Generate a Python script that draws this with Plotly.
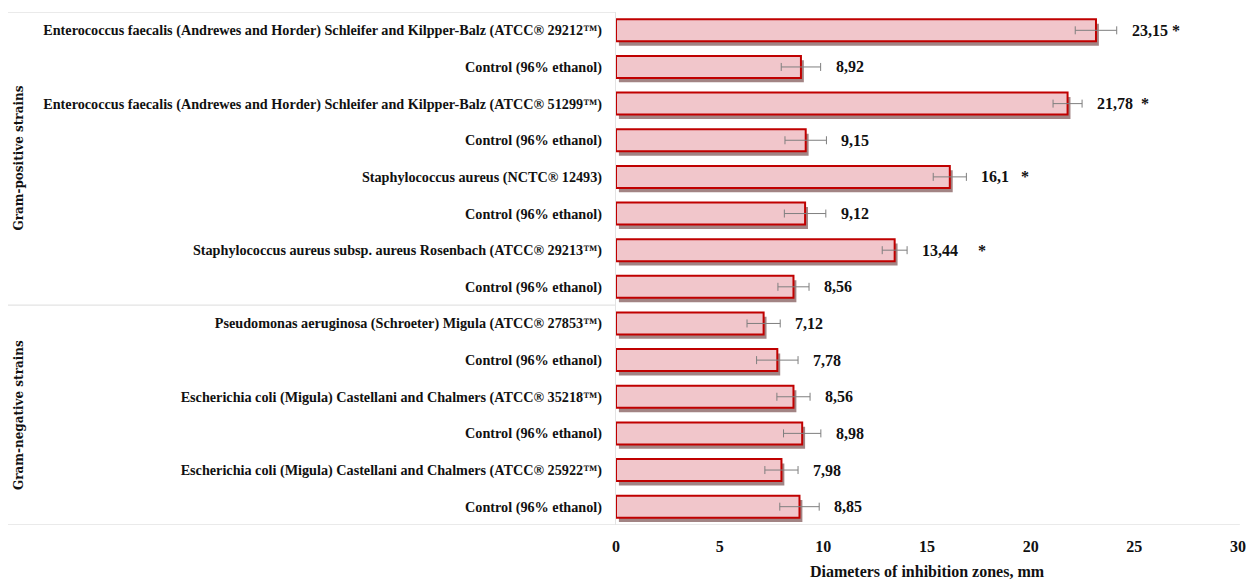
import plotly.graph_objects as go

labels = [
    "Enterococcus faecalis (Andrewes and Horder) Schleifer and Kilpper-Balz (ATCC® 29212™)",
    "Control (96% ethanol)",
    "Enterococcus faecalis (Andrewes and Horder) Schleifer and Kilpper-Balz (ATCC® 51299™)",
    "Control (96% ethanol)",
    "Staphylococcus aureus (NCTC® 12493)",
    "Control (96% ethanol)",
    "Staphylococcus aureus subsp. aureus Rosenbach (ATCC® 29213™)",
    "Control (96% ethanol)",
    "Pseudomonas aeruginosa (Schroeter) Migula (ATCC® 27853™)",
    "Control (96% ethanol)",
    "Escherichia coli (Migula) Castellani and Chalmers (ATCC® 35218™)",
    "Control (96% ethanol)",
    "Escherichia coli (Migula) Castellani and Chalmers (ATCC® 25922™)",
    "Control (96% ethanol)",
]
values = [23.15, 8.92, 21.78, 9.15, 16.1, 9.12, 13.44, 8.56, 7.12, 7.78, 8.56, 8.98, 7.98, 8.85]
errors = [1.0, 0.95, 0.7, 1.0, 0.8, 1.0, 0.6, 0.75, 0.8, 1.0, 0.8, 0.9, 0.8, 0.95]
value_text = ["23,15", "8,92", "21,78", "9,15", "16,1", "9,12", "13,44", "8,56",
              "7,12", "7,78", "8,56", "8,98", "7,98", "8,85"]
significant = ["\u00a0*", "", "\u00a0\u00a0*", "", "\u00a0\u00a0\u00a0*", "", "\u00a0\u00a0\u00a0\u00a0\u00a0*", "",
               "", "", "", "", "", ""]
groups = ["Gram-positive strains", "Gram-negative strains"]
group_sizes = [8, 6]

xticks = [0, 5, 10, 15, 20, 25, 30]
x_title = "Diameters of inhibition zones, mm"

pos = list(range(len(values)))
serif = "Liberation Serif"
font_col = "#111111"

fig = go.Figure()
# soft drop shadow behind each bar
fig.add_trace(go.Bar(
    y=pos, x=values, orientation="h", width=0.6, offset=-0.18, base=0.14,
    marker=dict(color="rgba(100,50,50,0.6)", line=dict(width=0)),
    hoverinfo="skip",
))
fig.add_trace(go.Bar(
    y=pos, x=values, orientation="h", width=0.6, offset=-0.3,
    marker=dict(color="#f1c6cb", line=dict(color="#c00000", width=2)),
    error_x=dict(type="data", array=errors, color="#7f7f7f", thickness=1, width=4),
    hoverinfo="x",
))

annotations = []
for p, v, e, t, s in zip(pos, values, errors, value_text, significant):
    annotations.append(dict(
        x=v + e, y=p, xref="x", yref="y", text=t + s, showarrow=False,
        xanchor="left", yanchor="middle", xshift=13,
        font=dict(family=serif, size=16, color=font_col, weight="bold"),
    ))

shapes = []
bounds = [-0.5]
for g in group_sizes:
    bounds.append(bounds[-1] + g)
left_paper = (8 - 616) / 622
for b in bounds[:-1]:
    shapes.append(dict(type="line", xref="paper", yref="y", x0=left_paper, x1=0,
                       y0=b, y1=b, line=dict(color="#e3e3e3", width=1.3)))
shapes.append(dict(type="line", xref="paper", yref="y", x0=left_paper, x1=1.003,
                   y0=bounds[-1], y1=bounds[-1], line=dict(color="#e3e3e3", width=1.3)))

for g, a, b in zip(groups, bounds[:-1], bounds[1:]):
    annotations.append(dict(
        x=(19 - 616) / 622, y=(a + b) / 2, xref="paper", yref="y", text=g,
        showarrow=False, textangle=-90, xanchor="center", yanchor="middle",
        font=dict(family="DejaVu Serif", size=12, color=font_col, weight="bold"),
    ))

fig.update_layout(
    width=1246, height=581,
    margin=dict(l=616, r=8, t=12, b=56, autoexpand=False),
    paper_bgcolor="white", plot_bgcolor="white",
    showlegend=False, barmode="overlay",
    annotations=annotations, shapes=shapes,
    xaxis=dict(range=[0, 30], tickvals=xticks, showgrid=False, zeroline=False,
               showline=False, ticks="", ticklabelstandoff=10,
               tickfont=dict(family=serif, size=16, color=font_col, weight="bold"),
               title=dict(text=x_title, standoff=11,
                          font=dict(family=serif, size=16, color=font_col, weight="bold"))),
    yaxis=dict(range=[len(values) - 0.5, -0.5], tickvals=pos, ticktext=labels,
               showgrid=False, zeroline=False, showline=True, linecolor="#e3e3e3",
               linewidth=1.3, ticks="", ticklabelstandoff=10,
               tickfont=dict(family=serif, size=14.2, color=font_col, weight="bold")),
)

fig.write_html("out.html")
